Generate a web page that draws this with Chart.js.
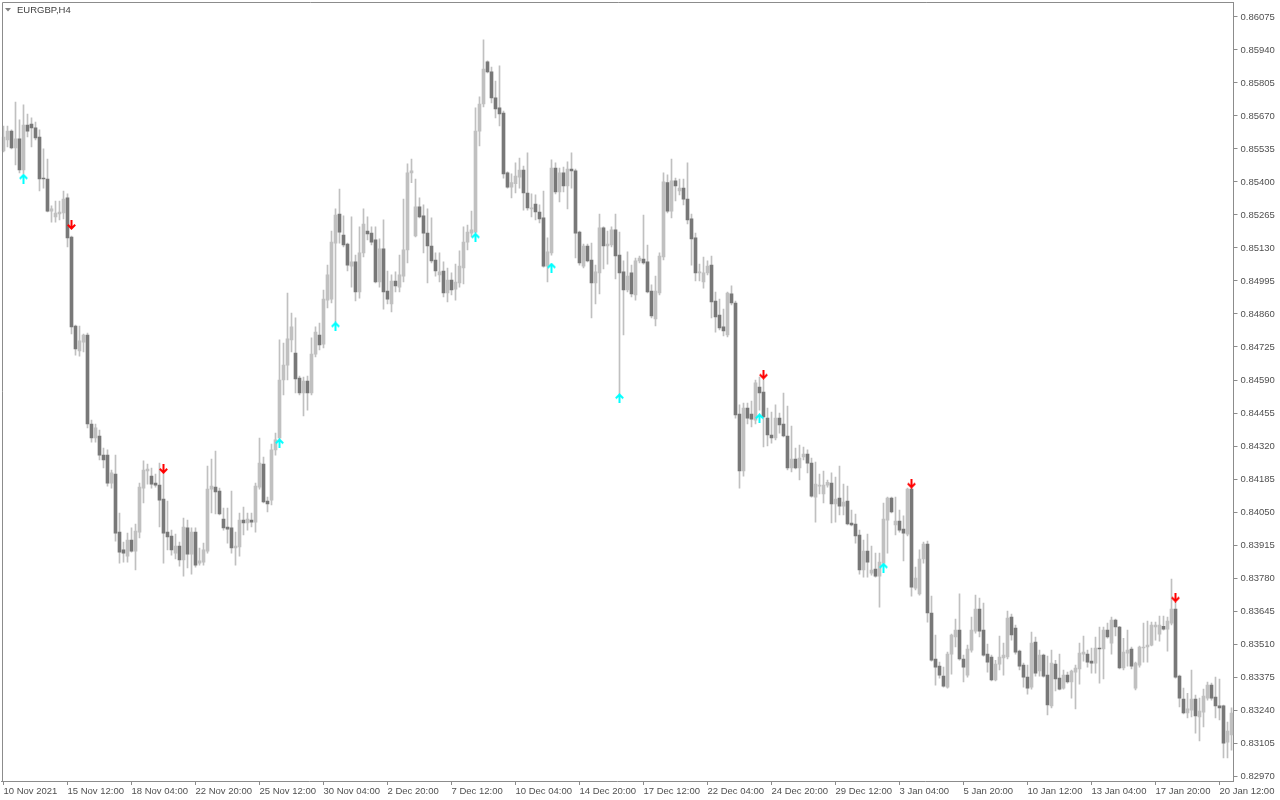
<!DOCTYPE html>
<html>
<head>
<meta charset="utf-8">
<title>EURGBP,H4</title>
<script src="https://cdn.jsdelivr.net/npm/chart.js@4.4.1/dist/chart.umd.min.js"></script>
<style>
  html, body { margin: 0; padding: 0; background: #ffffff; }
  #wrap { position: relative; width: 1280px; height: 800px; }
</style>
</head>
<body>
<div id="wrap"><canvas id="chart"></canvas></div>
<script>
// EURGBP H4 candles (one entry per bar, left to right)
const symbolTitle = 'EURGBP,H4';

const openPrices = [
  0.85527,0.85572,0.85608,0.85539,0.85576,0.85449,0.85633,0.85637,0.85621,0.85584,
  0.85416,0.85412,0.85281,0.85257,0.85269,0.85273,0.85335,0.85175,0.84811,0.84709,
  0.84745,0.84774,0.84410,0.84353,0.84361,0.84283,0.84283,0.84168,0.84205,0.83968,
  0.83895,0.83870,0.83935,0.83890,0.83968,0.84148,0.84218,0.84197,0.84168,0.84160,
  0.84103,0.83968,0.83952,0.83882,0.83911,0.83854,0.83985,0.83878,0.83968,0.83841,
  0.83845,0.83890,0.84144,0.84152,0.84136,0.84021,0.83989,0.83985,0.83903,0.83907,
  0.84017,0.84005,0.84017,0.84009,0.84152,0.84246,0.84095,0.84099,0.84304,0.84353,
  0.84590,0.84651,0.84754,0.84700,0.84598,0.84537,0.84586,0.84537,0.84696,0.84774,
  0.84737,0.84917,0.84921,0.85150,0.85269,0.85183,0.85146,0.85056,0.85073,0.84950,
  0.85110,0.85199,0.85191,0.85163,0.84991,0.85126,0.84954,0.84901,0.84995,0.84970,
  0.85015,0.85122,0.85437,0.85179,0.85298,0.85261,0.85191,0.85138,0.85081,0.85020,
  0.85036,0.84946,0.84999,0.84962,0.84987,0.85048,0.85154,0.85191,0.85195,0.85608,
  0.85719,0.85891,0.85850,0.85744,0.85703,0.85682,0.85437,0.85379,0.85393,0.85420,
  0.85449,0.85355,0.85290,0.85310,0.85277,0.85253,0.85056,0.85110,0.85457,0.85359,
  0.85437,0.85384,0.85453,0.85445,0.85195,0.85056,0.85138,0.85081,0.84987,0.85028,
  0.85212,0.85138,0.85142,0.85204,0.85101,0.85032,0.84958,0.85028,0.84938,0.85077,
  0.85085,0.85073,0.84954,0.84840,0.84946,0.85093,0.85397,0.85281,0.85405,0.85363,
  0.85375,0.85330,0.85249,0.85171,0.85028,0.84991,0.85028,0.85060,0.84913,0.84856,
  0.84807,0.84774,0.84942,0.84905,0.84451,0.84218,0.84475,0.84451,0.84426,0.84561,
  0.84541,0.84434,0.84365,0.84353,0.84434,0.84410,0.84361,0.84230,0.84267,0.84230,
  0.84275,0.84287,0.84250,0.84111,0.84156,0.84124,0.84160,0.84168,0.84083,0.84107,
  0.84074,0.84095,0.84005,0.84001,0.83956,0.83813,0.83890,0.83800,0.83817,0.83788,
  0.83841,0.84017,0.84107,0.83997,0.84013,0.83980,0.83960,0.84144,0.83739,0.83715,
  0.83858,0.83919,0.83637,0.83449,0.83420,0.83379,0.83334,0.83469,0.83539,0.83567,
  0.83449,0.83383,0.83485,0.83563,0.83653,0.83567,0.83469,0.83457,0.83363,0.83428,
  0.83453,0.83457,0.83620,0.83575,0.83481,0.83424,0.83375,0.83334,0.83518,0.83400,
  0.83465,0.83383,0.83257,0.83428,0.83371,0.83330,0.83383,0.83355,0.83395,0.83408,
  0.83469,0.83469,0.83440,0.83432,0.83494,0.83490,0.83567,0.83514,0.83608,0.83580,
  0.83412,0.83473,0.83490,0.83330,0.83424,0.83494,0.83498,0.83506,0.83580,0.83551,
  0.83583,0.83571,0.83596,0.83653,0.83379,0.83285,0.83228,0.83240,0.83285,0.83212,
  0.83232,0.83289,0.83342,0.83293,0.83257,0.83257,0.83109,0.83138
];

const highPrices = [
  0.85629,0.85629,0.85613,0.85727,0.85654,0.85715,0.85678,0.85662,0.85645,0.85613,
  0.85535,0.85494,0.85302,0.85322,0.85322,0.85363,0.85351,0.85179,0.84815,0.84811,
  0.84778,0.84782,0.84426,0.84410,0.84385,0.84312,0.84304,0.84222,0.84283,0.84046,
  0.83927,0.83964,0.83985,0.84001,0.84168,0.84259,0.84246,0.84230,0.84205,0.84250,
  0.84210,0.84095,0.83976,0.83960,0.83927,0.84025,0.84017,0.83985,0.83985,0.83903,
  0.83923,0.84238,0.84267,0.84299,0.84148,0.84066,0.84066,0.84136,0.83968,0.84046,
  0.84070,0.84046,0.84046,0.84168,0.84353,0.84275,0.84111,0.84328,0.84373,0.84754,
  0.84741,0.84946,0.84864,0.84844,0.84606,0.84602,0.84606,0.84762,0.84807,0.84823,
  0.84958,0.85060,0.85199,0.85290,0.85371,0.85261,0.85150,0.85257,0.85101,0.85216,
  0.85290,0.85257,0.85216,0.85216,0.85167,0.85245,0.85036,0.85020,0.85032,0.85101,
  0.85330,0.85474,0.85494,0.85412,0.85335,0.85306,0.85290,0.85253,0.85110,0.85110,
  0.85073,0.85048,0.85028,0.85064,0.85118,0.85216,0.85224,0.85281,0.85703,0.85748,
  0.85981,0.85895,0.85870,0.85813,0.85875,0.85690,0.85441,0.85433,0.85478,0.85498,
  0.85465,0.85519,0.85351,0.85347,0.85306,0.85363,0.85171,0.85490,0.85478,0.85457,
  0.85461,0.85482,0.85519,0.85453,0.85199,0.85146,0.85146,0.85150,0.85060,0.85269,
  0.85216,0.85199,0.85216,0.85269,0.85195,0.85077,0.85114,0.85060,0.85089,0.85097,
  0.85265,0.85142,0.84979,0.85015,0.85110,0.85437,0.85429,0.85494,0.85416,0.85412,
  0.85412,0.85478,0.85269,0.85191,0.85064,0.85093,0.85077,0.85097,0.84950,0.84921,
  0.84880,0.84950,0.84975,0.84913,0.84488,0.84496,0.84496,0.84504,0.84590,0.84602,
  0.84590,0.84475,0.84459,0.84488,0.84455,0.84537,0.84483,0.84402,0.84312,0.84324,
  0.84316,0.84304,0.84271,0.84254,0.84205,0.84218,0.84181,0.84210,0.84193,0.84238,
  0.84164,0.84156,0.84058,0.84042,0.83976,0.83935,0.83960,0.83911,0.83882,0.83882,
  0.84087,0.84111,0.84111,0.84111,0.84058,0.84034,0.84148,0.84152,0.83825,0.83895,
  0.83927,0.83931,0.83706,0.83547,0.83436,0.83416,0.83477,0.83551,0.83612,0.83715,
  0.83465,0.83506,0.83620,0.83710,0.83698,0.83678,0.83510,0.83465,0.83444,0.83543,
  0.83514,0.83645,0.83633,0.83588,0.83485,0.83432,0.83424,0.83559,0.83539,0.83485,
  0.83469,0.83461,0.83485,0.83444,0.83469,0.83404,0.83395,0.83404,0.83424,0.83514,
  0.83543,0.83485,0.83494,0.83539,0.83580,0.83580,0.83596,0.83620,0.83612,0.83583,
  0.83534,0.83567,0.83498,0.83436,0.83502,0.83596,0.83604,0.83600,0.83600,0.83624,
  0.83624,0.83620,0.83776,0.83682,0.83383,0.83330,0.83309,0.83404,0.83301,0.83289,
  0.83326,0.83355,0.83350,0.83375,0.83367,0.83261,0.83191,0.83249
];

const lowPrices = [
  0.85523,0.85543,0.85535,0.85470,0.85437,0.85433,0.85584,0.85543,0.85572,0.85363,
  0.85375,0.85277,0.85236,0.85236,0.85245,0.85249,0.85134,0.84778,0.84692,0.84688,
  0.84705,0.84394,0.84336,0.84336,0.84263,0.84230,0.84156,0.84148,0.83931,0.83841,
  0.83845,0.83845,0.83886,0.83813,0.83944,0.84087,0.84164,0.84148,0.84152,0.83989,
  0.83841,0.83895,0.83874,0.83858,0.83829,0.83788,0.83821,0.83796,0.83825,0.83833,
  0.83833,0.83882,0.84046,0.84042,0.84038,0.83976,0.83923,0.83882,0.83833,0.83870,
  0.83956,0.83976,0.83989,0.83968,0.84144,0.84087,0.84050,0.84079,0.84283,0.84349,
  0.84529,0.84590,0.84705,0.84537,0.84529,0.84443,0.84467,0.84529,0.84684,0.84713,
  0.84721,0.84885,0.84905,0.84823,0.85150,0.85134,0.85036,0.84970,0.84913,0.84925,
  0.85093,0.85163,0.85142,0.84987,0.84970,0.84880,0.84901,0.84868,0.84950,0.84950,
  0.84991,0.85069,0.85397,0.85175,0.85253,0.85110,0.84987,0.85069,0.85015,0.84991,
  0.84930,0.84909,0.84938,0.84917,0.84970,0.84983,0.85122,0.85175,0.85191,0.85547,
  0.85707,0.85846,0.85723,0.85662,0.85629,0.85416,0.85375,0.85335,0.85355,0.85375,
  0.85285,0.85285,0.85257,0.85245,0.85232,0.85052,0.84991,0.85101,0.85351,0.85318,
  0.85359,0.85290,0.85375,0.85089,0.85060,0.85048,0.85073,0.84844,0.84901,0.84942,
  0.85044,0.85064,0.85134,0.85003,0.84529,0.84774,0.84950,0.84930,0.84917,0.85069,
  0.85064,0.84946,0.84844,0.84811,0.84938,0.85081,0.85273,0.85253,0.85322,0.85347,
  0.85306,0.85228,0.85060,0.84995,0.84995,0.84966,0.85020,0.84844,0.84786,0.84795,
  0.84770,0.84766,0.84897,0.84434,0.84148,0.84197,0.84410,0.84398,0.84410,0.84467,
  0.84316,0.84320,0.84332,0.84345,0.84373,0.84357,0.84222,0.84214,0.84226,0.84181,
  0.84263,0.84210,0.84111,0.84009,0.84124,0.84087,0.84152,0.84005,0.84009,0.84038,
  0.84038,0.83997,0.83993,0.83923,0.83796,0.83784,0.83784,0.83792,0.83784,0.83661,
  0.83833,0.83882,0.84046,0.83956,0.83968,0.83850,0.83952,0.83706,0.83731,0.83710,
  0.83841,0.83600,0.83440,0.83342,0.83371,0.83334,0.83330,0.83387,0.83498,0.83444,
  0.83355,0.83375,0.83477,0.83555,0.83539,0.83461,0.83395,0.83359,0.83359,0.83404,
  0.83383,0.83449,0.83526,0.83469,0.83404,0.83334,0.83305,0.83326,0.83379,0.83379,
  0.83375,0.83220,0.83249,0.83318,0.83322,0.83326,0.83350,0.83289,0.83245,0.83346,
  0.83440,0.83416,0.83391,0.83391,0.83350,0.83367,0.83534,0.83469,0.83543,0.83408,
  0.83404,0.83420,0.83408,0.83322,0.83416,0.83436,0.83436,0.83502,0.83526,0.83522,
  0.83567,0.83481,0.83588,0.83371,0.83253,0.83224,0.83208,0.83212,0.83146,0.83114,
  0.83171,0.83281,0.83281,0.83208,0.83200,0.83044,0.83044,0.83076
];

const closePrices = [
  0.85584,0.85608,0.85539,0.85576,0.85449,0.85633,0.85608,0.85621,0.85580,0.85412,
  0.85412,0.85281,0.85290,0.85273,0.85277,0.85330,0.85171,0.84807,0.84717,0.84750,
  0.84774,0.84410,0.84353,0.84394,0.84283,0.84263,0.84168,0.84210,0.83964,0.83886,
  0.83882,0.83935,0.83890,0.83972,0.84152,0.84222,0.84226,0.84164,0.84160,0.84099,
  0.83964,0.83948,0.83895,0.83911,0.83854,0.83989,0.83878,0.83968,0.83833,0.83850,
  0.83895,0.84144,0.84156,0.84132,0.84042,0.83985,0.83980,0.83903,0.83911,0.84017,
  0.84005,0.84021,0.84009,0.84156,0.84250,0.84091,0.84083,0.84304,0.84345,0.84590,
  0.84651,0.84758,0.84807,0.84594,0.84537,0.84586,0.84537,0.84696,0.84786,0.84733,
  0.84921,0.85020,0.85154,0.85265,0.85195,0.85142,0.85060,0.85073,0.84950,0.85110,
  0.85228,0.85187,0.85154,0.84991,0.85126,0.84950,0.84921,0.84995,0.84975,0.85020,
  0.85122,0.85437,0.85445,0.85298,0.85257,0.85191,0.85138,0.85077,0.85036,0.85032,
  0.84946,0.84999,0.84958,0.84991,0.85056,0.85154,0.85195,0.85204,0.85608,0.85719,
  0.85862,0.85850,0.85744,0.85699,0.85678,0.85433,0.85379,0.85397,0.85424,0.85449,
  0.85355,0.85294,0.85294,0.85277,0.85249,0.85056,0.85114,0.85457,0.85359,0.85437,
  0.85384,0.85453,0.85445,0.85191,0.85069,0.85138,0.85077,0.84987,0.85032,0.85212,
  0.85138,0.85146,0.85204,0.85097,0.85028,0.84958,0.85015,0.84942,0.85077,0.85089,
  0.85069,0.84950,0.84852,0.84954,0.85097,0.85401,0.85281,0.85405,0.85384,0.85375,
  0.85330,0.85245,0.85167,0.85028,0.85032,0.85028,0.85056,0.84909,0.84848,0.84803,
  0.84791,0.84946,0.84905,0.84447,0.84218,0.84475,0.84434,0.84430,0.84578,0.84537,
  0.84439,0.84365,0.84353,0.84434,0.84406,0.84361,0.84230,0.84267,0.84230,0.84271,
  0.84287,0.84250,0.84115,0.84164,0.84160,0.84160,0.84172,0.84083,0.84103,0.84074,
  0.84091,0.84001,0.83997,0.83952,0.83813,0.83890,0.83845,0.83813,0.83788,0.83845,
  0.84021,0.84107,0.84050,0.84013,0.83976,0.83964,0.84144,0.83743,0.83780,0.83858,
  0.83919,0.83637,0.83444,0.83416,0.83383,0.83338,0.83469,0.83547,0.83567,0.83449,
  0.83416,0.83490,0.83567,0.83653,0.83563,0.83465,0.83436,0.83363,0.83428,0.83457,
  0.83465,0.83616,0.83547,0.83477,0.83420,0.83375,0.83330,0.83514,0.83391,0.83465,
  0.83379,0.83261,0.83432,0.83367,0.83326,0.83383,0.83355,0.83400,0.83412,0.83473,
  0.83477,0.83436,0.83432,0.83494,0.83490,0.83567,0.83539,0.83608,0.83580,0.83412,
  0.83477,0.83485,0.83420,0.83432,0.83498,0.83498,0.83506,0.83588,0.83588,0.83588,
  0.83571,0.83604,0.83653,0.83375,0.83289,0.83228,0.83245,0.83285,0.83216,0.83236,
  0.83297,0.83342,0.83289,0.83257,0.83249,0.83105,0.83154,0.83228
];

// indicator arrows: bar index + price where the arrow sits
const upArrowBars = [5, 69, 83, 118, 137, 154, 189, 220];
const upArrowPrices = [0.85414, 0.84332, 0.84809, 0.85173, 0.85050, 0.84516, 0.84434, 0.83823];
const downArrowBars = [17, 40, 190, 227, 293];
const downArrowPrices = [0.85224, 0.84226, 0.84612, 0.84166, 0.83700];

// axis labels
const xTickLabels = [
  '10 Nov 2021', '15 Nov 12:00', '18 Nov 04:00', '22 Nov 20:00', '25 Nov 12:00',
  '30 Nov 04:00', '2 Dec 20:00', '7 Dec 12:00', '10 Dec 04:00', '14 Dec 20:00',
  '17 Dec 12:00', '22 Dec 04:00', '24 Dec 20:00', '29 Dec 12:00', '3 Jan 04:00',
  '5 Jan 20:00', '10 Jan 12:00', '13 Jan 04:00', '17 Jan 20:00', '20 Jan 12:00'
];
const barsPerXTick = 16;
const yTickValues = [
  0.86075, 0.85940, 0.85805, 0.85670, 0.85535, 0.85400, 0.85265, 0.85130,
  0.84995, 0.84860, 0.84725, 0.84590, 0.84455, 0.84320, 0.84185, 0.84050,
  0.83915, 0.83780, 0.83645, 0.83510, 0.83375, 0.83240, 0.83105, 0.82970
];
const yMin = 0.82950;
const yMax = 0.86136;

const BULL_COLOR = '#c0c0c0';
const BEAR_COLOR = '#787878';
const WICK_COLOR = '#c0c0c0';
const AXIS_COLOR = '#8c8c8c';
const TEXT_COLOR = '#505050';
const FONT = { family: '"Liberation Sans", Arial, sans-serif', size: 9.5 };

// H4 bar times, weekends skipped (only used as category names)
function buildBarTimes(count) {
  const months = ['Jan','Feb','Mar','Apr','May','Jun','Jul','Aug','Sep','Oct','Nov','Dec'];
  const out = [];
  let t = Date.UTC(2021, 10, 10, 20);
  while (out.length < count) {
    const d = new Date(t);
    const wd = d.getUTCDay();
    if (wd !== 0 && wd !== 6) {
      out.push(d.getUTCDate() + ' ' + months[d.getUTCMonth()] + ' ' +
        String(d.getUTCHours()).padStart(2, '0') + ':00');
    }
    t += 4 * 3600 * 1000;
  }
  return out;
}

function makeArrow(color, up) {
  const c = document.createElement('canvas');
  c.width = 9;
  c.height = 10;
  const g = c.getContext('2d');
  g.strokeStyle = color;
  g.lineWidth = 2;
  g.beginPath();
  if (up) {
    g.moveTo(4.5, 10); g.lineTo(4.5, 1.5);
    g.moveTo(0.8, 5.2); g.lineTo(4.5, 1.5); g.lineTo(8.2, 5.2);
  } else {
    g.moveTo(4.5, 0); g.lineTo(4.5, 8.5);
    g.moveTo(0.8, 4.8); g.lineTo(4.5, 8.5); g.lineTo(8.2, 4.8);
  }
  g.stroke();
  return c;
}

const categories = buildBarTimes(openPrices.length);
const bodies = openPrices.map((o, i) => [o, closePrices[i]]);
const wicks = lowPrices.map((l, i) => [l, highPrices[i]]);
const bodyColors = openPrices.map((o, i) => (closePrices[i] >= o ? BULL_COLOR : BEAR_COLOR));

function arrowSeries(bars, prices) {
  const arr = new Array(categories.length).fill(null);
  bars.forEach((b, k) => { arr[b] = prices[k]; });
  return arr;
}

// the plot box must sit flush with the canvas edges like MT4
function noScalePadding(scale) {
  scale.paddingTop = 0;
  scale.paddingBottom = 0;
  scale.paddingLeft = 0;
  scale.paddingRight = 0;
}

// frame + symbol caption, MT4 style
const framePlugin = {
  id: 'frame',
  afterDraw(chart) {
    const { ctx, chartArea } = chart;
    ctx.save();
    ctx.strokeStyle = AXIS_COLOR;
    ctx.lineWidth = 1;
    ctx.beginPath();
    ctx.moveTo(Math.round(chartArea.left) + 0.5, Math.round(chartArea.bottom));
    ctx.lineTo(Math.round(chartArea.left) + 0.5, Math.round(chartArea.top) + 0.5);
    ctx.lineTo(Math.round(chartArea.right), Math.round(chartArea.top) + 0.5);
    ctx.stroke();

    ctx.fillStyle = '#808080';
    ctx.beginPath();
    ctx.moveTo(5, 8); ctx.lineTo(11, 8); ctx.lineTo(8, 11.5);
    ctx.closePath();
    ctx.fill();

    ctx.fillStyle = '#404040';
    ctx.font = '9.5px "Liberation Sans", Arial, sans-serif';
    ctx.textBaseline = 'middle';
    ctx.textAlign = 'left';
    ctx.fillText(symbolTitle, 17, 10);
    ctx.restore();
  }
};

new Chart(document.getElementById('chart').getContext('2d'), {
  data: {
    labels: categories,
    datasets: [
      {
        type: 'line',
        label: 'Buy signal',
        data: arrowSeries(upArrowBars, upArrowPrices),
        showLine: false,
        pointStyle: makeArrow('#00ffff', true),
        pointRadius: 5,
        order: 0,
      },
      {
        type: 'line',
        label: 'Sell signal',
        data: arrowSeries(downArrowBars, downArrowPrices),
        showLine: false,
        pointStyle: makeArrow('#ff0000', false),
        pointRadius: 5,
        order: 0,
      },
      {
        type: 'bar',
        label: 'Body',
        data: bodies,
        backgroundColor: bodyColors,
        borderWidth: 0,
        barThickness: 3,
        minBarLength: 1,
        grouped: false,
        order: 1,
      },
      {
        type: 'bar',
        label: 'Wick',
        data: wicks,
        backgroundColor: WICK_COLOR,
        borderWidth: 0,
        barThickness: 1,
        grouped: false,
        order: 2,
      },
    ],
  },
  options: {
    responsive: true,
    maintainAspectRatio: false,
    animation: false,
    events: [],
    layout: { autoPadding: false, padding: { top: 2, left: 1.5, right: 0, bottom: 0 } },
    plugins: {
      legend: { display: false },
      tooltip: { enabled: false },
    },
    scales: {
      x: {
        type: 'category',
        offset: true,
        afterBuildTicks: (scale) => {
          scale.ticks = scale.ticks.filter((t) => t.value % barsPerXTick === 0);
        },
        afterFit: (scale) => { scale.height = 19; noScalePadding(scale); },
        ticks: {
          autoSkip: false,
          maxRotation: 0,
          minRotation: 0,
          align: 'start',
          padding: 1,
          color: TEXT_COLOR,
          font: FONT,
          callback: (value) => xTickLabels[value / barsPerXTick] || '',
        },
        grid: { drawOnChartArea: false, offset: false, tickLength: 4, color: AXIS_COLOR },
        border: { display: true, color: AXIS_COLOR },
      },
      y: {
        type: 'linear',
        position: 'right',
        min: yMin,
        max: yMax,
        afterBuildTicks: (scale) => {
          scale.ticks = yTickValues.map((v) => ({ value: v }));
        },
        afterFit: (scale) => { scale.width = 46.5; noScalePadding(scale); },
        ticks: {
          autoSkip: false,
          padding: 3,
          color: TEXT_COLOR,
          font: FONT,
          callback: (value) => Number(value).toFixed(5),
        },
        grid: { drawOnChartArea: false, tickLength: 4, color: AXIS_COLOR },
        border: { display: true, color: AXIS_COLOR },
      },
    },
  },
  plugins: [framePlugin],
});
</script>
</body>
</html>
